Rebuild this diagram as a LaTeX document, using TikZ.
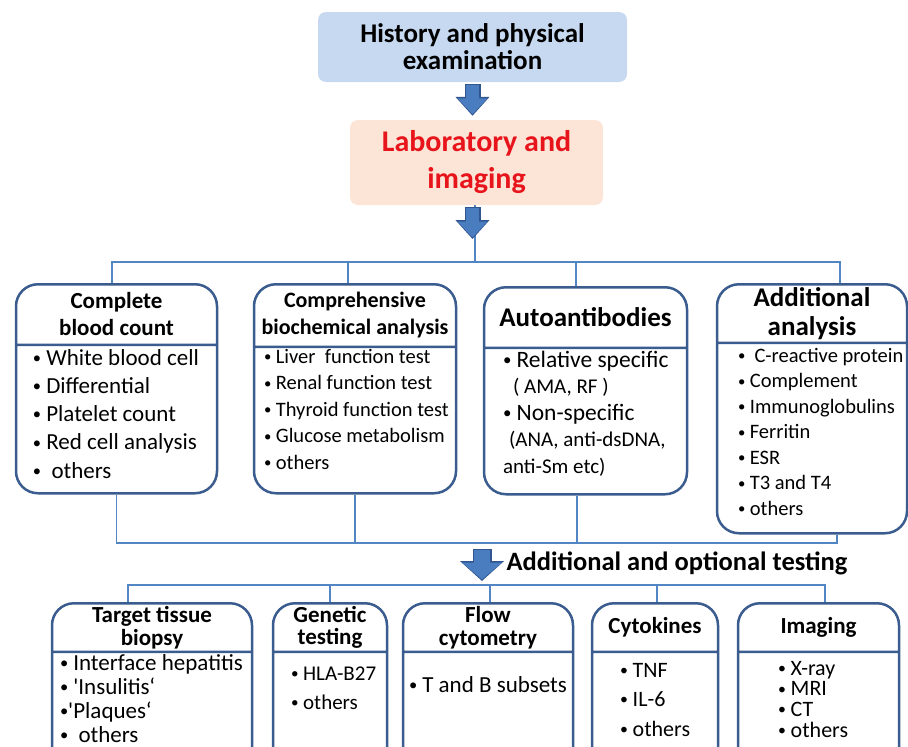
\documentclass[tikz,border=0pt]{standalone}
\usepackage{fontspec}
\setmainfont{Carlito}
\usetikzlibrary{shapes.multipart, arrows.meta, positioning}

\definecolor{boxline}{HTML}{3B5C8E}
\definecolor{busline}{HTML}{5285C4}
\definecolor{arrowfill}{HTML}{4A7DC0}
\definecolor{arrowedge}{HTML}{30558F}
\definecolor{histfill}{HTML}{C6D9F1}
\definecolor{labfill}{HTML}{FCE4D6}
\definecolor{labred}{HTML}{E8141B}

\newcommand{\bdot}{\raisebox{0.07em}{\scalebox{0.72}{\textbullet}}}
\newcommand{\bul}{\bdot\hspace{0.22em}}
\newcommand{\smalltxt}{\fontsize{21}{26.5}\selectfont}
% head part: width, height, size, skip, text
\newcommand{\boxhead}[5]{\parbox[c][#2][c]{#1}{\centering\fontsize{#3}{#4}\selectfont\bfseries #5}}
% list part: width, height, size, skip, first baseline, indent, text
\newcommand{\boxbody}[7]{\parbox[t][#2][t]{#1}{\fontsize{#3}{#4}\selectfont\raggedright\leftskip=#6\relax\rule{0pt}{#5}#7}}

\tikzstyle{topbox} = [rectangle, rounded corners=8pt, align=center, font=\bfseries]
\tikzstyle{testbox} = [rectangle split, rectangle split parts=2, rounded corners=22pt, draw=boxline, line width=2.5pt, inner sep=0pt, anchor=north]
\tikzstyle{bus} = [draw=busline, line width=1.8pt]
\tikzstyle{bigarrowedge} = [draw=arrowedge, line width=16pt, -{Triangle[width=33pt,length=19pt]}]
\tikzstyle{bigarrow} = [draw=arrowfill, line width=13pt, -{Triangle[width=29pt,length=16pt]}]
\tikzstyle{wideedge} = [draw=arrowedge, line width=19pt, -{Triangle[width=43pt,length=20pt]}]
\tikzstyle{widearrow} = [draw=arrowfill, line width=16pt, -{Triangle[width=39pt,length=17pt]}]

\begin{document}
\begin{tikzpicture}[x=1pt, y=1pt]
\useasboundingbox (0,0) rectangle (908,-747);
\clip (0,0) rectangle (908,-747);

\node (hist) [topbox, fill=histfill, minimum width=309pt, minimum height=70pt, font=\bfseries\fontsize{27}{27}\selectfont] at (472.5,-47) {History and physical\\examination};
\node (lab) [topbox, fill=labfill, text=labred, minimum width=253pt, minimum height=85pt, below of=hist, node distance=115.5pt, xshift=4pt, font=\bfseries\fontsize{30}{37}\selectfont] {Laboratory and\\imaging};

\coordinate (bus1) at (475,-262);
\coordinate (bus2) at (482,-543);
\coordinate (bus3) at (482,-585);

% first row
\node (cbc) [testbox] at (116.5,-283) {\boxhead{201pt}{58pt}{23}{27}{Complete\\blood count}
  \nodepart{two}\boxbody{201pt}{146pt}{23}{28.3}{19pt}{17pt}{\bul White blood cell\\ \bul Differential\\ \bul Platelet count\\ \bul Red cell analysis\\ \bul\ others}};
\node (biochem) [testbox] at (355,-283) {\boxhead{202pt}{60pt}{22}{27}{Comprehensive\\biochemical analysis}
  \nodepart{two}\boxbody{202pt}{144pt}{20.5}{26.5}{15pt}{10pt}{\bul Liver\ \ function test\\ \bul Renal function test\\ \bul Thyroid function test\\ \bul Glucose metabolism\\ \bul others}};
\node (autoab) [testbox] at (585.5,-286) {\boxhead{203pt}{58pt}{27}{27}{Autoantibodies}
  \nodepart{two}\boxbody{203pt}{144pt}{23.5}{26.5}{18pt}{19pt}{\bul Relative specific\\ \hspace*{10pt}{\smalltxt( AMA, RF )}\\ \bul Non-specific\\ \hspace*{6pt}{\smalltxt(ANA, anti-dsDNA,}\\ {\smalltxt anti-Sm etc)}}};
\node (addl) [testbox] at (812,-283) {\boxhead{190pt}{56pt}{27}{29}{Additional\\analysis}
  \nodepart{two}\boxbody{190pt}{188pt}{20.5}{25.5}{18pt}{21pt}{\mbox{\bul\ C-reactive protein}\\ \bul Complement\\ \bul Immunoglobulins\\ \bul Ferritin\\ \bul ESR\\ \bul T3 and T4\\ \bul others}};

% second row
\node (biopsy) [testbox] at (152,-602) {\boxhead{200pt}{46pt}{23}{23}{Target tissue\\biopsy}
  \nodepart{two}\boxbody{200pt}{130pt}{23}{24}{17pt}{8pt}{\bul Interface hepatitis\\ \bul\textquotesingle Insulitis‘\\ \bdot\textquotesingle Plaques‘\\ \bul\ others}};
\node (genetic) [testbox] at (330,-602) {\boxhead{114pt}{46pt}{23}{22}{Genetic\\testing}
  \nodepart{two}\boxbody{114pt}{130pt}{21}{29}{27pt}{18pt}{\bul HLA-B27\\ \bul others}};
\node (flow) [testbox] at (488,-602) {\boxhead{170pt}{46pt}{23}{23}{Flow\\cytometry}
  \nodepart{two}\boxbody{170pt}{130pt}{23}{24}{39pt}{6pt}{\bul T and B subsets}};
\node (cytokine) [testbox] at (655,-602) {\boxhead{126pt}{46pt}{23}{22}{Cytokines}
  \nodepart{two}\boxbody{126pt}{130pt}{22}{29.5}{24pt}{28pt}{\bul TNF\\ \bul IL-6\\ \bul others}};
\node (imaging) [testbox] at (818.5,-602) {\boxhead{161pt}{46pt}{23}{22}{Imaging}
  \nodepart{two}\boxbody{161pt}{130pt}{22}{20.7}{22pt}{40pt}{\bul X-ray\\ \bul MRI\\ \bul CT\\ \bul others}};

\node (optional) [anchor=west, font=\bfseries\fontsize{26.5}{30}\selectfont] at (503,-563) {Additional and optional testing};

% connectors
\draw [bus] (lab.south -| bus1) -- (bus1);
\draw [bus] ([xshift=-4.5pt]cbc.north) |- (bus1) -| ([xshift=28pt]addl.north);
\draw [bus] ([xshift=-7pt]biochem.north) -- ([xshift=-7pt]biochem.north |- bus1);
\draw [bus] ([xshift=-9.5pt]autoab.north) -- ([xshift=-9.5pt]autoab.north |- bus1);
\draw [bus] (cbc.south) |- (bus2) -| ([xshift=25pt]addl.south);
\draw [bus] (biochem.south) -- (biochem.south |- bus2);
\draw [bus] ([xshift=-8.5pt]autoab.south) -- ([xshift=-8.5pt]autoab.south |- bus2);
\draw [bus] ([xshift=-24pt]biopsy.north) |- (bus3) -| ([xshift=6.5pt]imaging.north);
\draw [bus] (genetic.north) -- (genetic.north |- bus3);
\draw [bus] ([xshift=2pt]flow.north) -- ([xshift=2pt]flow.north |- bus3);
\draw [bus] ([xshift=2pt]cytokine.north) -- ([xshift=2pt]cytokine.north |- bus3);

\draw [bigarrowedge, shorten <=2pt, shorten >=4pt] (hist.south) -- (hist.south |- lab.north);
\draw [bigarrow, shorten <=3pt, shorten >=5.5pt] (hist.south) -- (hist.south |- lab.north);
\draw [bigarrowedge, shorten <=2pt, shorten >=23pt] (lab.south -| hist.south) -- (hist.south |- bus1);
\draw [bigarrow, shorten <=3pt, shorten >=24.5pt] (lab.south -| hist.south) -- (hist.south |- bus1);
\draw [wideedge, shorten <=6pt, shorten >=4pt] (bus2) -- (bus3);
\draw [widearrow, shorten <=7pt, shorten >=5.5pt] (bus2) -- (bus3);
\end{tikzpicture}
\end{document}
